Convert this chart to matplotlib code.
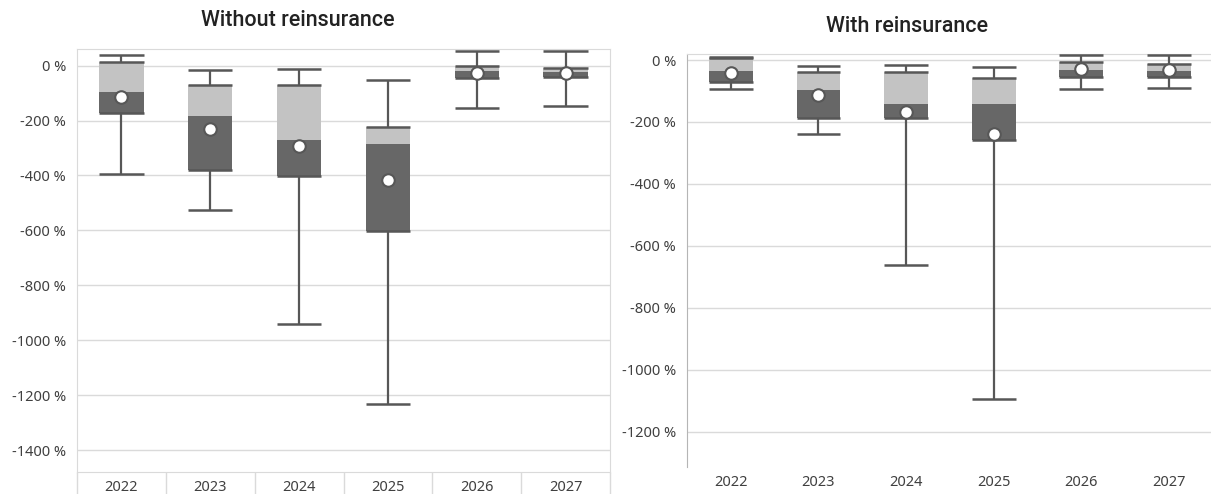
import matplotlib
matplotlib.use("Agg")
import matplotlib.pyplot as plt
from matplotlib.ticker import FuncFormatter, FixedLocator

plt.rcParams['font.family'] = ['Noto Sans', 'DejaVu Sans']

years = ['2022', '2023', '2024', '2025', '2026', '2027']

# without reinsurance (values in %)
wo_hi = [38, -15, -12, -51, 55, 55]
wo_q3 = [12, -69, -70, -223, 0, -9]
wo_med = [-95, -183, -270, -284, -18, -23]
wo_q1 = [-173, -379, -401, -604, -45, -42]
wo_lo = [-395, -525, -940, -1231, -154, -148]
wo_mean = [-114, -229, -292, -417, -25, -25]

# with reinsurance (values in %)
wi_hi = [9, -18, -17, -23, 16, 16]
wi_q3 = [5, -38, -40, -59, -5, -13]
wi_med = [-35, -97, -142, -141, -32, -35]
wi_q1 = [-71, -186, -186, -257, -54, -54]
wi_lo = [-93, -239, -660, -1094, -95, -89]
wi_mean = [-43, -113, -169, -239, -30, -32]

LIGHT = '#c3c3c3'
DARK = '#676767'
LINE = '#575757'
GRID = '#dadada'
TXT = '#404040'


def draw_boxes(ax, hi, q3, med, q1, lo, mean):
    x = list(range(len(years)))
    w = 0.5
    ax.bar(x, [a - b for a, b in zip(q3, med)], bottom=med, width=w, color=LIGHT, zorder=2)
    ax.bar(x, [a - b for a, b in zip(med, q1)], bottom=q1, width=w, color=DARK, zorder=2)
    for i in x:
        ax.vlines(i, q3[i], hi[i], color=LINE, lw=1.6, zorder=3)
        ax.vlines(i, lo[i], q1[i], color=LINE, lw=1.6, zorder=3)
        ax.hlines([hi[i], lo[i], q3[i], q1[i]], i - w / 2, i + w / 2, color=LINE, lw=1.8, zorder=3)
    ax.plot(x, mean, 'o', ms=9, mfc='white', mec=LINE, mew=1.5, ls='none', zorder=4)
    ax.set_xticks(x)
    ax.set_xticklabels(years)
    ax.yaxis.set_major_formatter(FuncFormatter(lambda v, p: '%d %%' % v))
    ax.grid(axis='y', color=GRID, lw=1, zorder=0)
    ax.set_axisbelow(True)
    ax.tick_params(axis='y', length=0, pad=8, labelsize=10.5, labelcolor=TXT)
    ax.tick_params(axis='x', which='major', length=0, pad=6, labelsize=10.5, labelcolor=TXT)


fig = plt.figure(figsize=(12.11, 4.94), dpi=100)

ax1 = fig.add_axes([77 / 1211, 1 - 471.7 / 494, (610 - 77) / 1211, (471.7 - 49) / 494])
draw_boxes(ax1, wo_hi, wo_q3, wo_med, wo_q1, wo_lo, wo_mean)
ax1.set_xlim(-0.5, 5.5)
ax1.set_ylim(-1479, 60.7)
ax1.set_yticks(range(-1400, 1, 200))
for s in ax1.spines.values():
    s.set_color(GRID)
# separators between categories below the axis
ax1.xaxis.set_minor_locator(FixedLocator([-0.5, 0.5, 1.5, 2.5, 3.5, 4.5, 5.5]))
ax1.tick_params(axis='x', which='minor', length=17, color=GRID, width=1)

ax2 = fig.add_axes([687 / 1211, 1 - 467 / 494, (1211 - 687) / 1211, (467 - 54.3) / 494])
draw_boxes(ax2, wi_hi, wi_q3, wi_med, wi_q1, wi_lo, wi_mean)
ax2.set_xlim(-0.5, 5.48)
ax2.set_ylim(-1313, 18.4)
ax2.set_yticks(range(-1200, 1, 200))
ax2.spines['right'].set_visible(False)
ax2.spines['bottom'].set_visible(False)
ax2.spines['left'].set_color('#b5b5b5')
ax2.spines['top'].set_color(GRID)

fig.text(298 / 1211, 1 - 20 / 494, 'Without reinsurance', ha='center', va='center',
         fontsize=15.5, family=['Roboto', 'DejaVu Sans'], weight='medium', color='#222222')
fig.text(907 / 1211, 1 - 26 / 494, 'With reinsurance', ha='center', va='center',
         fontsize=15.5, family=['Roboto', 'DejaVu Sans'], weight='medium', color='#222222')

fig.savefig('out.png', dpi=100, facecolor='white')
